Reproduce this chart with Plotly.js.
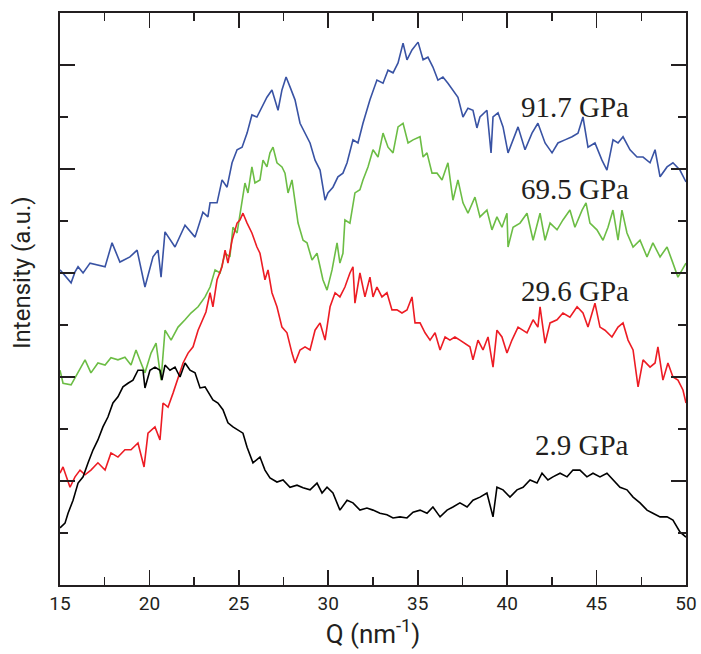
<!DOCTYPE html>
<html>
<head>
<meta charset="utf-8">
<script src="https://cdn.plot.ly/plotly-3.0.1.min.js"></script>
<style>html,body{margin:0;padding:0;background:#fff;}#chart{width:701px;height:654px;}</style>
</head>
<body>
<div id="chart"></div>
<script>
// Series labels (pressure)
const seriesNames = ["91.7 GPa", "69.5 GPa", "29.6 GPa", "2.9 GPa"];
const seriesColors = ["#3953a4", "#6cbd45", "#ed1c24", "#000000"];

// 91.7 GPa
const q91 = [15.00,15.62,15.84,16.01,16.29,16.68,17.52,17.91,18.35,18.91,19.31,19.75,20.20,20.48,20.65,20.87,21.43,21.99,22.55,22.99,23.27,23.39,23.78,24.06,24.34,24.62,24.90,25.18,25.46,25.73,26.01,26.29,26.57,26.85,27.19,27.41,27.64,27.86,28.14,28.42,28.70,28.98,29.26,29.54,29.82,29.98,30.26,30.54,30.82,31.05,31.38,31.66,31.94,32.33,32.72,33.06,33.34,33.62,33.90,34.18,34.40,34.68,35.02,35.30,35.57,35.85,36.13,36.41,36.69,36.97,37.25,37.53,37.81,38.09,38.31,38.48,38.87,39.10,39.21,39.49,39.77,40.05,40.33,40.61,41.00,41.39,41.72,42.12,42.51,42.84,43.23,43.63,43.96,44.24,44.52,44.91,45.30,45.58,45.92,46.20,46.48,46.87,47.26,47.60,47.99,48.27,48.55,48.94,49.27,49.66,50.00];
const i91 = [6.06,5.81,6.02,6.12,6.00,6.19,6.12,6.58,6.21,6.31,6.44,5.73,6.31,6.44,5.92,6.79,6.50,6.92,6.69,7.17,7.08,7.35,7.35,7.79,7.65,8.12,8.37,8.42,8.69,9.04,9.00,9.19,9.38,9.52,9.13,9.52,9.77,9.58,9.33,8.88,8.69,8.50,8.17,7.98,7.40,7.54,7.65,7.85,7.92,8.12,8.56,8.50,8.88,9.33,9.71,9.65,9.90,9.85,10.04,10.42,10.10,10.29,10.44,10.10,10.15,9.96,9.71,9.77,9.65,9.52,9.38,9.00,9.17,9.13,8.79,9.00,9.13,8.31,9.00,9.08,8.81,8.31,8.56,8.81,8.37,8.69,8.88,8.50,8.31,8.50,8.56,8.62,8.69,9.00,8.42,8.50,8.17,7.98,8.56,8.50,8.62,8.37,8.23,8.23,8.12,8.37,7.85,8.04,8.12,7.98,7.75];

// 69.5 GPa
const q69 = [15.00,15.17,15.62,16.01,16.40,16.73,17.12,17.52,17.85,18.24,18.63,18.97,19.25,19.53,19.75,20.09,20.37,20.65,20.87,21.21,21.60,21.99,22.32,22.72,23.11,23.39,23.67,23.95,24.23,24.50,24.67,24.90,25.18,25.34,25.51,25.73,25.90,26.18,26.35,26.57,26.74,26.91,27.13,27.41,27.58,27.75,27.97,28.14,28.31,28.59,28.81,29.09,29.37,29.54,29.70,29.93,30.21,30.49,30.65,30.82,30.93,31.21,31.49,31.77,31.94,32.22,32.50,32.78,33.06,33.34,33.62,33.90,34.18,34.46,34.74,35.13,35.30,35.52,35.80,36.08,36.36,36.69,36.97,37.25,37.53,37.81,38.20,38.48,38.87,39.15,39.43,39.71,39.99,40.05,40.33,40.72,41.11,41.45,41.84,42.12,42.40,42.79,43.12,43.51,43.79,44.19,44.41,44.63,45.02,45.36,45.64,45.92,46.20,46.42,46.70,47.04,47.43,47.82,48.15,48.55,48.94,49.27,49.55,50.00];
const i69 = [4.13,3.88,3.85,4.08,4.33,4.08,4.27,4.23,4.37,4.33,4.38,4.23,4.52,4.27,4.08,4.46,4.65,3.94,4.90,4.71,4.96,5.10,5.23,5.35,5.54,5.73,6.06,6.00,6.38,6.31,6.88,6.77,7.40,7.73,7.54,8.04,7.73,7.79,8.17,8.04,8.31,8.42,8.12,8.04,7.92,7.54,7.79,7.35,6.96,6.63,6.58,6.25,6.38,6.12,5.87,5.67,6.06,6.58,6.19,6.38,7.02,6.96,7.54,7.60,7.79,8.04,8.37,8.23,8.69,8.42,8.31,8.81,8.88,8.50,8.56,8.62,8.23,8.31,7.92,7.92,7.79,8.12,7.40,7.79,7.35,7.15,7.46,7.08,7.21,6.83,7.08,6.88,7.15,6.50,6.88,6.96,7.15,6.63,7.15,6.63,6.96,6.83,7.02,7.21,6.88,7.21,7.35,6.96,6.83,6.63,6.88,7.21,6.63,7.21,6.77,6.50,6.63,6.31,6.58,6.31,6.50,6.19,5.92,6.19];

// 29.6 GPa
const q29 = [15.00,15.17,15.56,15.84,16.12,16.40,16.73,17.12,17.52,17.85,18.24,18.63,18.97,19.36,19.70,19.92,20.31,20.59,20.76,21.04,21.32,21.60,21.88,22.16,22.44,22.72,22.99,23.16,23.39,23.55,23.78,24.06,24.23,24.39,24.62,24.90,25.06,25.23,25.46,25.73,26.01,26.18,26.46,26.63,26.85,27.13,27.41,27.69,27.97,28.14,28.42,28.70,28.98,29.26,29.54,29.82,30.10,30.38,30.65,30.93,31.21,31.38,31.49,31.77,32.05,32.33,32.50,32.72,33.00,33.28,33.56,33.84,34.12,34.40,34.68,34.85,35.13,35.41,35.69,35.97,36.25,36.53,36.80,37.08,37.36,37.64,37.92,38.09,38.37,38.65,38.93,39.21,39.43,39.71,39.99,40.27,40.61,41.11,41.45,41.72,41.84,42.12,42.40,42.79,43.12,43.51,43.91,44.24,44.52,44.91,45.19,45.47,45.86,46.20,46.48,46.76,47.04,47.32,47.60,47.99,48.27,48.43,48.71,48.99,49.27,49.55,49.83,50.00];
const i29 = [2.15,2.27,1.88,2.08,2.21,2.12,2.21,2.35,2.21,2.54,2.46,2.60,2.60,2.73,2.27,2.92,3.04,2.79,3.50,3.42,3.69,4.00,4.27,4.46,4.58,4.90,5.10,5.25,5.62,5.35,5.87,6.12,6.44,6.19,6.63,6.96,7.02,7.15,6.96,6.77,6.50,6.38,5.87,6.06,5.62,5.35,4.96,4.85,4.46,4.27,4.52,4.58,4.52,4.90,5.04,4.71,5.35,5.62,5.54,5.73,6.00,6.12,5.42,6.00,5.54,5.92,5.54,5.73,5.54,5.62,5.29,5.29,5.23,5.29,5.54,5.04,5.04,4.85,4.71,4.85,4.52,4.77,4.71,4.77,4.71,4.65,4.58,4.33,4.71,4.52,4.77,4.19,4.90,4.77,4.46,4.71,4.96,4.85,5.10,4.96,5.35,4.65,5.04,5.10,5.23,5.15,5.35,5.23,4.96,5.42,4.96,4.90,4.77,4.96,5.04,4.71,4.52,3.81,4.33,4.19,4.27,4.58,3.94,4.27,4.00,3.94,3.75,3.50];

// 2.9 GPa
const q3 = [15.00,15.28,15.45,15.73,16.01,16.29,16.57,16.85,17.12,17.40,17.68,17.96,18.24,18.52,18.80,19.08,19.36,19.64,19.75,20.03,20.31,20.59,20.70,20.87,21.15,21.43,21.71,21.99,22.27,22.55,22.83,23.11,23.55,23.83,24.11,24.39,24.67,24.95,25.23,25.46,25.79,26.18,26.46,26.74,27.13,27.47,27.86,28.25,28.59,28.98,29.37,29.65,29.93,30.26,30.65,31.05,31.38,31.77,32.16,32.50,32.89,33.28,33.62,34.01,34.40,34.74,35.13,35.52,35.85,36.25,36.64,36.97,37.36,37.76,38.09,38.48,38.87,39.21,39.43,39.77,40.16,40.55,40.89,41.28,41.67,41.95,42.28,42.56,42.96,43.35,43.68,44.07,44.46,44.80,45.19,45.58,45.92,46.31,46.70,47.04,47.43,47.82,48.15,48.55,48.94,49.27,49.66,50.00];
const i3 = [1.10,1.19,1.38,1.63,1.96,2.08,2.35,2.60,2.79,3.04,3.23,3.50,3.62,3.81,3.88,3.94,4.13,4.13,3.79,4.13,4.19,4.13,3.94,4.23,4.13,4.19,4.00,4.27,4.13,4.08,3.79,3.81,3.56,3.50,3.37,3.12,3.04,2.98,2.92,2.65,2.35,2.46,2.21,2.06,1.98,2.02,1.88,1.92,1.87,1.83,1.96,1.77,1.88,1.77,1.44,1.63,1.58,1.44,1.48,1.44,1.38,1.35,1.29,1.31,1.29,1.40,1.44,1.38,1.50,1.31,1.44,1.50,1.58,1.50,1.63,1.69,1.77,1.31,1.88,1.83,1.69,1.83,1.88,2.02,1.96,2.15,2.02,2.08,2.15,2.08,2.21,2.21,2.08,2.15,2.08,2.15,2.02,1.88,1.83,1.69,1.58,1.44,1.38,1.31,1.31,1.25,1.02,0.92];

// Label anchor positions (Q, intensity)
const labelQ = [43.8, 43.8, 43.8, 44.2];
const labelI = [9.19, 7.62, 5.65, 2.69];

const xs = [q91, q69, q29, q3];
const ys = [i91, i69, i29, i3];

const traces = xs.map((x, k) => ({
  x: x, y: ys[k], type: 'scatter', mode: 'lines', name: seriesNames[k],
  line: {color: seriesColors[k], width: 1.6}, showlegend: false, hoverinfo: 'skip'
}));

const annotations = seriesNames.map((t, k) => ({
  x: labelQ[k], y: labelI[k], xref: 'x', yref: 'y', text: t, showarrow: false,
  font: {family: 'Liberation Serif, Times New Roman, serif', size: 29, color: '#231f20'},
  xanchor: 'center', yanchor: 'middle'
}));

// y-axis title placed as rotated text to the left of the axis
annotations.push({
  xref: 'paper', yref: 'paper', x: -0.061, y: 0.547, text: 'Intensity (a.u.)',
  showarrow: false, textangle: -90, xanchor: 'center', yanchor: 'middle',
  font: {family: 'Roboto, Open Sans, sans-serif', size: 24, color: '#231f20'}
});

const layout = {
  width: 701, height: 654,
  margin: {l: 60, r: 15, t: 13, b: 69},
  paper_bgcolor: '#ffffff', plot_bgcolor: '#ffffff',
  font: {family: 'Roboto, Open Sans, sans-serif', color: '#231f20'},
  xaxis: {
    range: [15, 50], tick0: 15, dtick: 5, ticks: 'inside', ticklen: 15, tickwidth: 1.6,
    tickcolor: '#231f20', showline: true, linewidth: 2.2, linecolor: '#231f20', mirror: 'ticks',
    showgrid: false, zeroline: false, tickfont: {size: 19},
    minor: {dtick: 2.5, tick0: 15, ticks: 'inside', ticklen: 8, tickwidth: 1.4, tickcolor: '#231f20', showgrid: false},
    title: {text: 'Q (nm<sup>-1</sup>)', font: {size: 26}, standoff: 10}
  },
  yaxis: {
    range: [0, 11], tick0: 0, dtick: 2, ticks: 'inside', ticklen: 15, tickwidth: 1.6,
    tickcolor: '#231f20', showline: true, linewidth: 2.2, linecolor: '#231f20', mirror: 'ticks',
    showgrid: false, zeroline: false, showticklabels: false,
    minor: {dtick: 1, tick0: 0, ticks: 'inside', ticklen: 8, tickwidth: 1.4, tickcolor: '#231f20', showgrid: false}
  },
  annotations: annotations
};

Plotly.newPlot('chart', traces, layout, {displayModeBar: false, staticPlot: true});
</script>
</body>
</html>
